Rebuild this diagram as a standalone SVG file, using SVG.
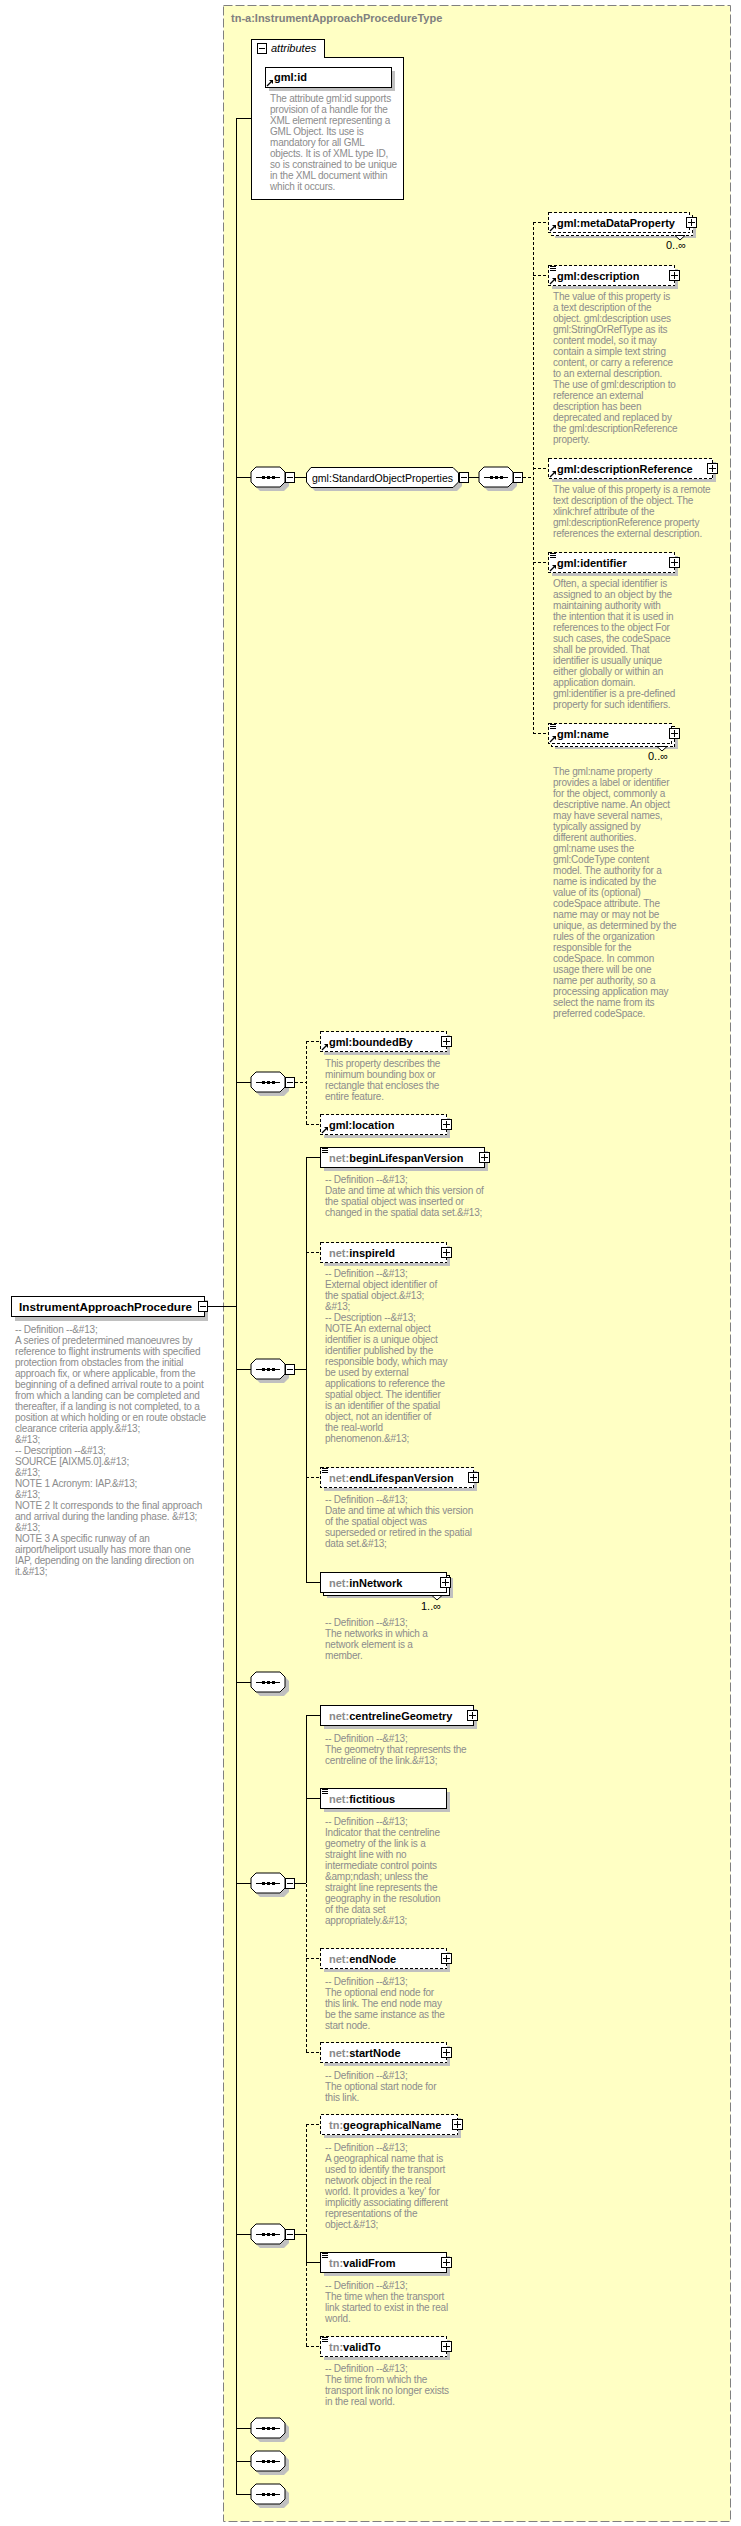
<svg xmlns="http://www.w3.org/2000/svg" width="741" height="2526" viewBox="0 0 741 2526">
<style>
.bg{fill:#FFFFC4;stroke:#808080;stroke-width:1;stroke-dasharray:9,3}
.title{font-family:"Liberation Sans",Arial,sans-serif;font-size:11px;font-weight:bold;fill:#808080}
.desc{font-family:"Liberation Sans",Arial,sans-serif;font-size:10px;letter-spacing:-0.2px;fill:#8C8C8C}
.nm{font-family:"Liberation Sans",Arial,sans-serif;font-size:11px;font-weight:bold;fill:#000}
.pf{fill:#8A8A8A}
.reg{font-family:"Liberation Sans",Arial,sans-serif;font-size:11px;fill:#000}
.it{font-family:"Liberation Sans",Arial,sans-serif;font-size:11px;font-style:italic;fill:#000}
.box{fill:#fff;stroke:#000;stroke-width:1}
.opt{stroke-dasharray:3,2}
.sh{fill:#C0C0C0}
.ln{stroke:#000;stroke-width:1;fill:none}
.dl{stroke-dasharray:3,2}
</style>
<defs>
<g id="seq">
<polygon class="sh" points="9,4 33,4 38,9 38,19 33,24 9,24 4,19 4,9"/>
<polygon class="box" points="5,0 29,0 34,5 34,15 29,20 5,20 0,15 0,5"/>
<line x1="5" y1="10.5" x2="29" y2="10.5" stroke="#000"/>
<rect x="11" y="9" width="3" height="3" fill="#000"/>
<rect x="16" y="9" width="3" height="3" fill="#000"/>
<rect x="21" y="9" width="3" height="3" fill="#000"/>
</g>
<g id="minus">
<rect x="0.5" y="0.5" width="9" height="10" class="box"/>
<line x1="2" y1="5.5" x2="8" y2="5.5" stroke="#000"/>
</g>
<g id="plus">
<rect x="0.5" y="0.5" width="10" height="10" class="box"/>
<line x1="2" y1="5.5" x2="9" y2="5.5" stroke="#000"/>
<line x1="5.5" y1="2" x2="5.5" y2="9" stroke="#000"/>
</g>
<g id="ref">
<line x1="2" y1="19" x2="6" y2="15" stroke="#000" stroke-width="1.3"/>
<polygon points="4,13 8,13 8,17" fill="#000"/>
</g>
<g id="simp">
<line x1="2" y1="1.5" x2="8" y2="1.5" stroke="#000"/>
<line x1="2" y1="3.5" x2="8" y2="3.5" stroke="#000"/>
<line x1="2" y1="5.5" x2="8" y2="5.5" stroke="#000"/>
</g>
</defs>

<rect x="0" y="0" width="741" height="2526" fill="#fff"/>
<rect class="bg" x="223.5" y="5.5" width="507" height="2516"/>
<text class="title" x="231" y="22">tn-a:InstrumentApproachProcedureType</text>

<g id="connectors" shape-rendering="crispEdges">
<line class="ln" x1="236.5" y1="118" x2="236.5" y2="2494"/>
<line class="ln" x1="236" y1="118.5" x2="251" y2="118.5"/>
<line class="ln" x1="208" y1="1306.5" x2="236" y2="1306.5"/>
<line class="ln" x1="236" y1="477.5" x2="251" y2="477.5"/>
<line class="ln" x1="236" y1="1082.5" x2="251" y2="1082.5"/>
<line class="ln" x1="236" y1="1369.5" x2="251" y2="1369.5"/>
<line class="ln" x1="236" y1="1682.5" x2="251" y2="1682.5"/>
<line class="ln" x1="236" y1="1883.5" x2="251" y2="1883.5"/>
<line class="ln" x1="236" y1="2234.5" x2="251" y2="2234.5"/>
<line class="ln" x1="236" y1="2428.5" x2="251" y2="2428.5"/>
<line class="ln" x1="236" y1="2461.5" x2="251" y2="2461.5"/>
<line class="ln" x1="236" y1="2494.5" x2="251" y2="2494.5"/>
<line class="ln" x1="295" y1="477.5" x2="306" y2="477.5"/>
<line class="ln" x1="469" y1="477.5" x2="479" y2="477.5"/>
<line class="ln dl" x1="523" y1="477.5" x2="533" y2="477.5"/>
<line class="ln dl" x1="533.5" y1="222" x2="533.5" y2="733"/>
<line class="ln dl" x1="533" y1="222.5" x2="548" y2="222.5"/>
<line class="ln dl" x1="533" y1="275.5" x2="548" y2="275.5"/>
<line class="ln dl" x1="533" y1="468.5" x2="548" y2="468.5"/>
<line class="ln dl" x1="533" y1="562.5" x2="548" y2="562.5"/>
<line class="ln dl" x1="533" y1="733.5" x2="548" y2="733.5"/>
<line class="ln dl" x1="295" y1="1082.5" x2="306" y2="1082.5"/>
<line class="ln dl" x1="306.5" y1="1041" x2="306.5" y2="1124"/>
<line class="ln dl" x1="306" y1="1041.5" x2="320" y2="1041.5"/>
<line class="ln dl" x1="306" y1="1124.5" x2="320" y2="1124.5"/>
<line class="ln" x1="295" y1="1369.5" x2="306" y2="1369.5"/>
<line class="ln" x1="306.5" y1="1157" x2="306.5" y2="1582"/>
<line class="ln" x1="306" y1="1157.5" x2="320" y2="1157.5"/>
<line class="ln dl" x1="306" y1="1252.5" x2="320" y2="1252.5"/>
<line class="ln dl" x1="306" y1="1477.5" x2="320" y2="1477.5"/>
<line class="ln" x1="306" y1="1582.5" x2="320" y2="1582.5"/>
<line class="ln" x1="295" y1="1883.5" x2="306" y2="1883.5"/>
<line class="ln" x1="306.5" y1="1715" x2="306.5" y2="1883"/>
<line class="ln dl" x1="306.5" y1="1884" x2="306.5" y2="2052"/>
<line class="ln" x1="306" y1="1715.5" x2="320" y2="1715.5"/>
<line class="ln" x1="306" y1="1798.5" x2="320" y2="1798.5"/>
<line class="ln dl" x1="306" y1="1958.5" x2="320" y2="1958.5"/>
<line class="ln dl" x1="306" y1="2052.5" x2="320" y2="2052.5"/>
<line class="ln" x1="295" y1="2234.5" x2="306" y2="2234.5"/>
<line class="ln dl" x1="306.5" y1="2124" x2="306.5" y2="2234"/>
<line class="ln" x1="306.5" y1="2234" x2="306.5" y2="2262"/>
<line class="ln dl" x1="306.5" y1="2263" x2="306.5" y2="2346"/>
<line class="ln dl" x1="306" y1="2124.5" x2="320" y2="2124.5"/>
<line class="ln" x1="306" y1="2262.5" x2="320" y2="2262.5"/>
<line class="ln dl" x1="306" y1="2346.5" x2="320" y2="2346.5"/>
</g>

<g id="attributes" shape-rendering="crispEdges">
<path class="box" d="M251.5,199.5 V39.5 H324.5 V57.5 H403.5 V199.5 Z"/>
<use href="#minus" x="257" y="43"/>
<text class="it" x="271" y="52">attributes</text>
</g>
<g id="gml-id">
<rect class="sh" x="269" y="71" width="126" height="20"/>
<rect class="box" x="265.5" y="67.5" width="126" height="20" shape-rendering="crispEdges"/>
<use href="#ref" x="265" y="67"/>
<text class="nm" x="274" y="81">gml:id</text>
<text class="desc" x="270" y="102">The attribute gml:id supports<tspan x="270" dy="11">provision of a handle for the</tspan><tspan x="270" dy="11">XML element representing a</tspan><tspan x="270" dy="11">GML Object. Its use is</tspan><tspan x="270" dy="11">mandatory for all GML</tspan><tspan x="270" dy="11">objects. It is of XML type ID,</tspan><tspan x="270" dy="11">so is constrained to be unique</tspan><tspan x="270" dy="11">in the XML document within</tspan><tspan x="270" dy="11">which it occurs.</tspan></text>
</g>

<g id="InstrumentApproachProcedure">
<rect class="sh" x="15" y="1300" width="193" height="21"/>
<rect class="box" x="11.5" y="1296.5" width="193" height="20" shape-rendering="crispEdges"/>
<text class="nm" x="19" y="1311" textLength="173" lengthAdjust="spacingAndGlyphs">InstrumentApproachProcedure</text>
<use href="#minus" x="198" y="1301"/>
<text class="desc" x="15" y="1333">-- Definition --&amp;#13;<tspan x="15" dy="11">A series of predetermined manoeuvres by</tspan><tspan x="15" dy="11">reference to flight instruments with specified</tspan><tspan x="15" dy="11">protection from obstacles from the initial</tspan><tspan x="15" dy="11">approach fix, or where applicable, from the</tspan><tspan x="15" dy="11">beginning of a defined arrival route to a point</tspan><tspan x="15" dy="11">from which a landing can be completed and</tspan><tspan x="15" dy="11">thereafter, if a landing is not completed, to a</tspan><tspan x="15" dy="11">position at which holding or en route obstacle</tspan><tspan x="15" dy="11">clearance criteria apply.&amp;#13;</tspan><tspan x="15" dy="11">&amp;#13;</tspan><tspan x="15" dy="11">-- Description --&amp;#13;</tspan><tspan x="15" dy="11">SOURCE  [AIXM5.0].&amp;#13;</tspan><tspan x="15" dy="11">&amp;#13;</tspan><tspan x="15" dy="11">NOTE 1 Acronym: IAP.&amp;#13;</tspan><tspan x="15" dy="11">&amp;#13;</tspan><tspan x="15" dy="11">NOTE 2 It corresponds to the final approach</tspan><tspan x="15" dy="11">and arrival during the landing phase. &amp;#13;</tspan><tspan x="15" dy="11">&amp;#13;</tspan><tspan x="15" dy="11">NOTE 3 A specific runway of an</tspan><tspan x="15" dy="11">airport/heliport usually has more than one</tspan><tspan x="15" dy="11">IAP, depending on the landing direction on</tspan><tspan x="15" dy="11">it.&amp;#13;</tspan></text>
</g>

<g id="seq1"><use href="#seq" x="251" y="467"/><use href="#minus" x="285" y="472"/></g>
<g id="StandardObjectProperties">
<polygon class="sh" points="315,471 457,471 462,476 462,486 457,491 315,491 310,486 310,476"/>
<polygon class="box" points="311,467.5 453,467.5 458.5,473 458.5,482 453,487.5 311,487.5 306.5,482 306.5,473"/>
<text class="reg" x="312" y="481.5" textLength="141" lengthAdjust="spacingAndGlyphs">gml:StandardObjectProperties</text>
<use href="#minus" x="459" y="472"/>
</g>
<g id="seq2"><use href="#seq" x="479" y="467"/><use href="#minus" x="513" y="472"/></g>
<g id="seq3"><use href="#seq" x="251" y="1072"/><use href="#minus" x="285" y="1077"/></g>
<g id="seq4"><use href="#seq" x="251" y="1359"/><use href="#minus" x="285" y="1364"/></g>
<g id="seq5"><use href="#seq" x="251" y="1672"/></g>
<g id="seq6"><use href="#seq" x="251" y="1873"/><use href="#minus" x="285" y="1878"/></g>
<g id="seq7"><use href="#seq" x="251" y="2224"/><use href="#minus" x="285" y="2229"/></g>
<g id="seq8"><use href="#seq" x="251" y="2418"/></g>
<g id="seq9"><use href="#seq" x="251" y="2451"/></g>
<g id="seq10"><use href="#seq" x="251" y="2484"/></g>

<g id="gml-metaDataProperty">
<rect class="sh" x="555" y="218" width="141" height="20"/>
<rect class="box opt" x="551.5" y="215.5" width="141" height="20" shape-rendering="crispEdges"/>
<rect class="box opt" x="548.5" y="212.5" width="141" height="20" shape-rendering="crispEdges"/>
<polygon class="box" points="675,235.5 680,240 685,235.5"/>
<use href="#ref" x="548" y="212"/>
<text class="nm" x="557" y="227">gml:metaDataProperty</text>
<use href="#plus" x="686" y="217"/>
<text class="reg" x="666" y="249">0..∞</text>
</g>
<g id="gml-description">
<rect class="sh" x="552" y="269" width="126" height="20"/>
<rect class="box opt" x="548.5" y="265.5" width="126" height="20" shape-rendering="crispEdges"/>
<use href="#simp" x="548" y="265"/><use href="#ref" x="548" y="265"/>
<text class="nm" x="557" y="280">gml:description</text>
<use href="#plus" x="669" y="270"/>
<text class="desc" x="553" y="300">The value of this property is<tspan x="553" dy="11">a text description of the</tspan><tspan x="553" dy="11">object. gml:description uses</tspan><tspan x="553" dy="11">gml:StringOrRefType as its</tspan><tspan x="553" dy="11">content model, so it may</tspan><tspan x="553" dy="11">contain a simple text string</tspan><tspan x="553" dy="11">content, or carry a reference</tspan><tspan x="553" dy="11">to an external description.</tspan><tspan x="553" dy="11">The use of gml:description to</tspan><tspan x="553" dy="11">reference an external</tspan><tspan x="553" dy="11">description has been</tspan><tspan x="553" dy="11">deprecated and replaced by</tspan><tspan x="553" dy="11">the gml:descriptionReference</tspan><tspan x="553" dy="11">property.</tspan></text>
</g>
<g id="gml-descriptionReference">
<rect class="sh" x="552" y="462" width="164" height="20"/>
<rect class="box opt" x="548.5" y="458.5" width="164" height="20" shape-rendering="crispEdges"/>
<use href="#ref" x="548" y="458"/>
<text class="nm" x="557" y="473">gml:descriptionReference</text>
<use href="#plus" x="707" y="463"/>
<text class="desc" x="553" y="493">The value of this property is a remote<tspan x="553" dy="11">text description of the object. The</tspan><tspan x="553" dy="11">xlink:href attribute of the</tspan><tspan x="553" dy="11">gml:descriptionReference property</tspan><tspan x="553" dy="11">references the external description.</tspan></text>
</g>
<g id="gml-identifier">
<rect class="sh" x="552" y="556" width="126" height="20"/>
<rect class="box opt" x="548.5" y="552.5" width="126" height="20" shape-rendering="crispEdges"/>
<use href="#simp" x="548" y="552"/><use href="#ref" x="548" y="552"/>
<text class="nm" x="557" y="567">gml:identifier</text>
<use href="#plus" x="669" y="557"/>
<text class="desc" x="553" y="587">Often, a special identifier is<tspan x="553" dy="11">assigned to an object by the</tspan><tspan x="553" dy="11">maintaining authority with</tspan><tspan x="553" dy="11">the intention that it is used in</tspan><tspan x="553" dy="11">references to the object For</tspan><tspan x="553" dy="11">such cases, the codeSpace</tspan><tspan x="553" dy="11">shall be provided. That</tspan><tspan x="553" dy="11">identifier is usually unique</tspan><tspan x="553" dy="11">either globally or within an</tspan><tspan x="553" dy="11">application domain.</tspan><tspan x="553" dy="11">gml:identifier is a pre-defined</tspan><tspan x="553" dy="11">property for such identifiers.</tspan></text>
</g>
<g id="gml-name">
<rect class="sh" x="555" y="729" width="123" height="20"/>
<rect class="box opt" x="551.5" y="726.5" width="123" height="20" shape-rendering="crispEdges"/>
<rect class="box opt" x="548.5" y="723.5" width="123" height="20" shape-rendering="crispEdges"/>
<polygon class="box" points="657,746.5 662,751 667,746.5"/>
<use href="#simp" x="548" y="723"/><use href="#ref" x="548" y="723"/>
<text class="nm" x="557" y="738">gml:name</text>
<use href="#plus" x="669" y="728"/>
<text class="reg" x="648" y="760">0..∞</text>
<text class="desc" x="553" y="775">The gml:name property<tspan x="553" dy="11">provides a label or identifier</tspan><tspan x="553" dy="11">for the object, commonly a</tspan><tspan x="553" dy="11">descriptive name. An object</tspan><tspan x="553" dy="11">may have several names,</tspan><tspan x="553" dy="11">typically assigned by</tspan><tspan x="553" dy="11">different authorities.</tspan><tspan x="553" dy="11">gml:name uses the</tspan><tspan x="553" dy="11">gml:CodeType content</tspan><tspan x="553" dy="11">model.  The authority for a</tspan><tspan x="553" dy="11">name is indicated by the</tspan><tspan x="553" dy="11">value of its (optional)</tspan><tspan x="553" dy="11">codeSpace attribute.  The</tspan><tspan x="553" dy="11">name may or may not be</tspan><tspan x="553" dy="11">unique, as determined by the</tspan><tspan x="553" dy="11">rules of the organization</tspan><tspan x="553" dy="11">responsible for the</tspan><tspan x="553" dy="11">codeSpace.  In common</tspan><tspan x="553" dy="11">usage there will be one</tspan><tspan x="553" dy="11">name per authority, so a</tspan><tspan x="553" dy="11">processing application may</tspan><tspan x="553" dy="11">select the name from its</tspan><tspan x="553" dy="11">preferred codeSpace.</tspan></text>
</g>

<g id="gml-boundedBy">
<rect class="sh" x="324" y="1035" width="126" height="20"/>
<rect class="box opt" x="320.5" y="1031.5" width="126" height="20" shape-rendering="crispEdges"/>
<use href="#ref" x="320" y="1031"/>
<text class="nm" x="329" y="1046">gml:boundedBy</text>
<use href="#plus" x="441" y="1036"/>
<text class="desc" x="325" y="1067">This property describes the<tspan x="325" dy="11">minimum bounding box or</tspan><tspan x="325" dy="11">rectangle that encloses the</tspan><tspan x="325" dy="11">entire feature.</tspan></text>
</g>
<g id="gml-location">
<rect class="sh" x="324" y="1118" width="126" height="20"/>
<rect class="box opt" x="320.5" y="1114.5" width="126" height="20" shape-rendering="crispEdges"/>
<use href="#ref" x="320" y="1114"/>
<text class="nm" x="329" y="1129">gml:location</text>
<use href="#plus" x="441" y="1119"/>
</g>

<g id="net-beginLifespanVersion">
<rect class="sh" x="324" y="1151" width="164" height="20"/>
<rect class="box" x="320.5" y="1147.5" width="164" height="20" shape-rendering="crispEdges"/>
<use href="#simp" x="320" y="1147"/>
<text class="nm" x="329" y="1162"><tspan class="pf">net:</tspan>beginLifespanVersion</text>
<use href="#plus" x="479" y="1152"/>
<text class="desc" x="325" y="1183">-- Definition --&amp;#13;<tspan x="325" dy="11">Date and time at which this version of</tspan><tspan x="325" dy="11">the spatial object was inserted or</tspan><tspan x="325" dy="11">changed in the spatial data set.&amp;#13;</tspan></text>
</g>
<g id="net-inspireId">
<rect class="sh" x="324" y="1246" width="126" height="20"/>
<rect class="box opt" x="320.5" y="1242.5" width="126" height="20" shape-rendering="crispEdges"/>
<text class="nm" x="329" y="1257"><tspan class="pf">net:</tspan>inspireId</text>
<use href="#plus" x="441" y="1247"/>
<text class="desc" x="325" y="1277">-- Definition --&amp;#13;<tspan x="325" dy="11">External object identifier of</tspan><tspan x="325" dy="11">the spatial object.&amp;#13;</tspan><tspan x="325" dy="11">&amp;#13;</tspan><tspan x="325" dy="11">-- Description --&amp;#13;</tspan><tspan x="325" dy="11">NOTE An external object</tspan><tspan x="325" dy="11">identifier is a unique object</tspan><tspan x="325" dy="11">identifier published by the</tspan><tspan x="325" dy="11">responsible body, which may</tspan><tspan x="325" dy="11">be used by external</tspan><tspan x="325" dy="11">applications to reference the</tspan><tspan x="325" dy="11">spatial object. The identifier</tspan><tspan x="325" dy="11">is an identifier of the spatial</tspan><tspan x="325" dy="11">object, not an identifier of</tspan><tspan x="325" dy="11">the real-world</tspan><tspan x="325" dy="11">phenomenon.&amp;#13;</tspan></text>
</g>
<g id="net-endLifespanVersion">
<rect class="sh" x="324" y="1471" width="153" height="20"/>
<rect class="box opt" x="320.5" y="1467.5" width="153" height="20" shape-rendering="crispEdges"/>
<use href="#simp" x="320" y="1467"/>
<text class="nm" x="329" y="1482"><tspan class="pf">net:</tspan>endLifespanVersion</text>
<use href="#plus" x="468" y="1472"/>
<text class="desc" x="325" y="1503">-- Definition --&amp;#13;<tspan x="325" dy="11">Date and time at which this version</tspan><tspan x="325" dy="11">of the spatial object was</tspan><tspan x="325" dy="11">superseded or retired in the spatial</tspan><tspan x="325" dy="11">data set.&amp;#13;</tspan></text>
</g>
<g id="net-inNetwork">
<rect class="sh" x="327" y="1578" width="126" height="20"/>
<rect class="box" x="323.5" y="1575.5" width="126" height="20" shape-rendering="crispEdges"/>
<rect class="box" x="320.5" y="1572.5" width="126" height="20" shape-rendering="crispEdges"/>
<polygon class="box" points="432,1595.5 437,1600 442,1595.5"/>
<text class="nm" x="329" y="1587"><tspan class="pf">net:</tspan>inNetwork</text>
<use href="#plus" x="440" y="1577"/>
<text class="reg" x="421" y="1610">1..∞</text>
<text class="desc" x="325" y="1626">-- Definition --&amp;#13;<tspan x="325" dy="11">The networks in which a</tspan><tspan x="325" dy="11">network element is a</tspan><tspan x="325" dy="11">member.</tspan></text>
</g>

<g id="net-centrelineGeometry">
<rect class="sh" x="324" y="1709" width="153" height="20"/>
<rect class="box" x="320.5" y="1705.5" width="153" height="20" shape-rendering="crispEdges"/>
<text class="nm" x="329" y="1720"><tspan class="pf">net:</tspan>centrelineGeometry</text>
<use href="#plus" x="467" y="1710"/>
<text class="desc" x="325" y="1742">-- Definition --&amp;#13;<tspan x="325" dy="11">The geometry that represents the</tspan><tspan x="325" dy="11">centreline of the link.&amp;#13;</tspan></text>
</g>
<g id="net-fictitious">
<rect class="sh" x="324" y="1792" width="126" height="20"/>
<rect class="box" x="320.5" y="1788.5" width="126" height="20" shape-rendering="crispEdges"/>
<use href="#simp" x="320" y="1788"/>
<text class="nm" x="329" y="1803"><tspan class="pf">net:</tspan>fictitious</text>
<text class="desc" x="325" y="1825">-- Definition --&amp;#13;<tspan x="325" dy="11">Indicator that the centreline</tspan><tspan x="325" dy="11">geometry of the link is a</tspan><tspan x="325" dy="11">straight line with no</tspan><tspan x="325" dy="11">intermediate control points</tspan><tspan x="325" dy="11">&amp;amp;ndash; unless the</tspan><tspan x="325" dy="11">straight line represents the</tspan><tspan x="325" dy="11">geography in the resolution</tspan><tspan x="325" dy="11">of the data set</tspan><tspan x="325" dy="11">appropriately.&amp;#13;</tspan></text>
</g>
<g id="net-endNode">
<rect class="sh" x="324" y="1952" width="126" height="20"/>
<rect class="box opt" x="320.5" y="1948.5" width="126" height="20" shape-rendering="crispEdges"/>
<text class="nm" x="329" y="1963"><tspan class="pf">net:</tspan>endNode</text>
<use href="#plus" x="441" y="1953"/>
<text class="desc" x="325" y="1985">-- Definition --&amp;#13;<tspan x="325" dy="11">The optional end node for</tspan><tspan x="325" dy="11">this link. The end node may</tspan><tspan x="325" dy="11">be the same instance as the</tspan><tspan x="325" dy="11">start node.</tspan></text>
</g>
<g id="net-startNode">
<rect class="sh" x="324" y="2046" width="126" height="20"/>
<rect class="box opt" x="320.5" y="2042.5" width="126" height="20" shape-rendering="crispEdges"/>
<text class="nm" x="329" y="2057"><tspan class="pf">net:</tspan>startNode</text>
<use href="#plus" x="441" y="2047"/>
<text class="desc" x="325" y="2079">-- Definition --&amp;#13;<tspan x="325" dy="11">The optional start node for</tspan><tspan x="325" dy="11">this link.</tspan></text>
</g>

<g id="tn-geographicalName">
<rect class="sh" x="324" y="2118" width="137" height="20"/>
<rect class="box opt" x="320.5" y="2114.5" width="137" height="20" shape-rendering="crispEdges"/>
<text class="nm" x="329" y="2129"><tspan class="pf">tn:</tspan>geographicalName</text>
<use href="#plus" x="452" y="2119"/>
<text class="desc" x="325" y="2151">-- Definition --&amp;#13;<tspan x="325" dy="11">A geographical name that is</tspan><tspan x="325" dy="11">used to identify the transport</tspan><tspan x="325" dy="11">network object in the real</tspan><tspan x="325" dy="11">world. It provides a 'key' for</tspan><tspan x="325" dy="11">implicitly associating different</tspan><tspan x="325" dy="11">representations of the</tspan><tspan x="325" dy="11">object.&amp;#13;</tspan></text>
</g>
<g id="tn-validFrom">
<rect class="sh" x="324" y="2256" width="126" height="20"/>
<rect class="box" x="320.5" y="2252.5" width="126" height="20" shape-rendering="crispEdges"/>
<use href="#simp" x="320" y="2252"/>
<text class="nm" x="329" y="2267"><tspan class="pf">tn:</tspan>validFrom</text>
<use href="#plus" x="441" y="2257"/>
<text class="desc" x="325" y="2289">-- Definition --&amp;#13;<tspan x="325" dy="11">The time when the transport</tspan><tspan x="325" dy="11">link started to exist in the real</tspan><tspan x="325" dy="11">world.</tspan></text>
</g>
<g id="tn-validTo">
<rect class="sh" x="324" y="2340" width="126" height="20"/>
<rect class="box opt" x="320.5" y="2336.5" width="126" height="20" shape-rendering="crispEdges"/>
<use href="#simp" x="320" y="2336"/>
<text class="nm" x="329" y="2351"><tspan class="pf">tn:</tspan>validTo</text>
<use href="#plus" x="441" y="2341"/>
<text class="desc" x="325" y="2372">-- Definition --&amp;#13;<tspan x="325" dy="11">The time from which the</tspan><tspan x="325" dy="11">transport link no longer exists</tspan><tspan x="325" dy="11">in the real world.</tspan></text>
</g>
</svg>
